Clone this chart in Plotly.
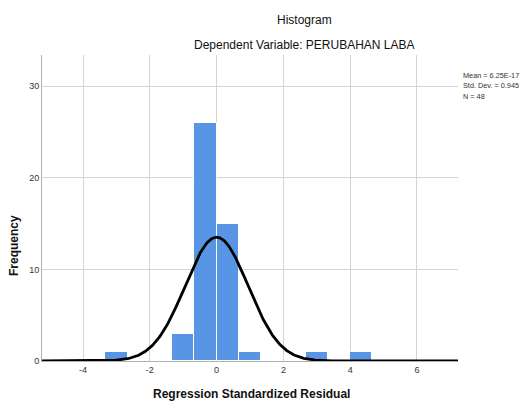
import numpy as np
import plotly.graph_objects as go

# Data
bin_width = 2 / 3
bin_centers = [-3.0, -1.0, -1 / 3, 1 / 3, 1.0, 3.0, 13 / 3]
counts = [1, 3, 26, 15, 1, 1, 1]
mean_val = 6.25e-17
std_dev = 0.945
n_obs = 48
x_ticks = [-4, -2, 0, 2, 4, 6]
y_ticks = [0, 10, 20, 30]

W, H = 523, 403
L, R, T, B = 42, 65, 55, 42
pw, ph = W - L - R, H - T - B

def px(x):
    return (x - L) / pw

def py(y):
    return (H - B - y) / ph

xr = [-5.23, 7.23]
xs = np.linspace(xr[0], xr[1], 600)
ys = n_obs * bin_width / (std_dev * np.sqrt(2 * np.pi)) * np.exp(-0.5 * ((xs - mean_val) / std_dev) ** 2)

fig = go.Figure()
fig.add_trace(go.Bar(x=bin_centers, y=counts, width=bin_width,
                     marker=dict(color="#5896E5", line=dict(color="#ffffff", width=1)),
                     hoverinfo="skip"))
fig.add_trace(go.Scatter(x=xs, y=ys, mode="lines", line=dict(color="black", width=2.8),
                         hoverinfo="skip"))

fig.update_layout(
    width=W, height=H,
    margin=dict(l=L, r=R, t=T, b=B),
    paper_bgcolor="white", plot_bgcolor="white",
    showlegend=False, bargap=0,
    font=dict(family="Liberation Sans, Arial, sans-serif", color="#222"),
)
fig.update_xaxes(range=xr, tickvals=x_ticks, ticktext=[str(v) for v in x_ticks],
                 showgrid=True, gridcolor="#d4d4d4", gridwidth=1,
                 zeroline=False, showline=True, linecolor="#b0b0b0", linewidth=1,
                 ticks="", tickfont=dict(size=9, color="#333"), fixedrange=True)
fig.update_yaxes(range=[0, 33.4], tickvals=y_ticks, ticktext=[str(v) for v in y_ticks],
                 showgrid=True, gridcolor="#d4d4d4", gridwidth=1,
                 zeroline=False, showline=True, linecolor="#b0b0b0", linewidth=1,
                 ticks="", tickfont=dict(size=9, color="#333"), fixedrange=True)

ann = [
    dict(text="Histogram", x=px(304), y=py(20), font=dict(size=12, color="#111")),
    dict(text="Dependent Variable: PERUBAHAN LABA", x=px(304), y=py(45), font=dict(size=12, color="#111")),
    dict(text="<b>Regression Standardized Residual</b>", x=px(251), y=py(394), font=dict(size=12, color="#111")),
    dict(text="<b>Frequency</b>", x=px(14), y=py(246), textangle=-90, font=dict(size=12, color="#111")),
]
for a in ann:
    fig.add_annotation(xref="paper", yref="paper", showarrow=False,
                       xanchor="center", yanchor="middle", **a)

stats = ["Mean = 6.25E-17", f"Std. Dev. = {std_dev}", f"N = {n_obs}"]
for i, s in enumerate(stats):
    fig.add_annotation(xref="paper", yref="paper", showarrow=False, text=s,
                       x=px(461), y=py(75 + 10.5 * i), xanchor="left", yanchor="middle",
                       font=dict(size=7.3, color="#333"))

fig.write_html("out.html", config={"displayModeBar": False},
               post_script="document.body.style.margin='0';document.body.style.padding='0';document.body.style.overflow='hidden';")
